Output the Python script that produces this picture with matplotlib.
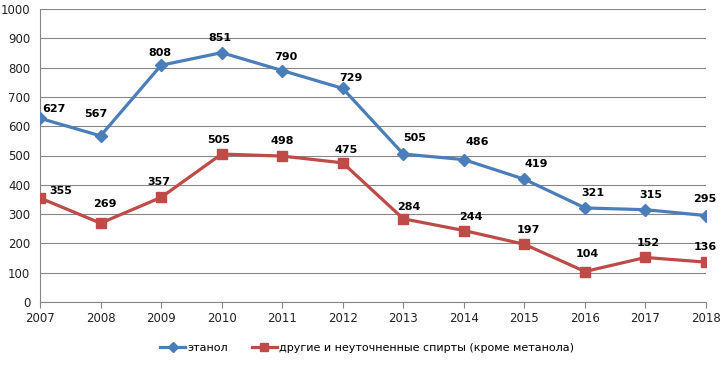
import matplotlib
matplotlib.use('Agg')
import matplotlib.pyplot as plt

# data
years = [2007, 2008, 2009, 2010, 2011, 2012, 2013, 2014, 2015, 2016, 2017, 2018]
ethanol = [627, 567, 808, 851, 790, 729, 505, 486, 419, 321, 315, 295]
other = [355, 269, 357, 505, 498, 475, 284, 244, 197, 104, 152, 136]
name_ethanol = 'этанол'
name_other = 'другие и неуточненные спирты (кроме метанола)'

# label offsets in pixels (dx, dy)
off_ethanol = [(14, 9), (-5, 22), (-1, 12), (-2, 15), (4, 14), (8, 10),
               (11, 16), (13, 18), (12, 15), (8, 15), (5, 15), (-1, 17)]
off_other = [(21, 7), (4, 19), (-2, 15), (-3, 14), (0, 15), (3, 13),
             (6, 12), (7, 14), (4, 14), (2, 18), (3, 14), (-1, 15)]

blue = '#4A7EBB'
red = '#BE4B48'
tick_font = ['Liberation Sans Narrow', 'DejaVu Sans']

fig = plt.figure(figsize=(7.27, 3.68), dpi=100)
ax = fig.add_axes([40 / 727, 1 - 302 / 368, 666 / 727, 293 / 368])

ax.plot(years, ethanol, color=blue, lw=2.3, marker='D', ms=6,
        label=name_ethanol, zorder=3)
ax.plot(years, other, color=red, lw=2.3, marker='s', ms=7,
        label=name_other, zorder=3)

for x, y, (dx, dy) in zip(years, ethanol, off_ethanol):
    ax.annotate(str(y), (x, y), xytext=(dx, dy), textcoords='offset pixels',
                ha='center', va='center', fontsize=8, fontweight='bold')
for x, y, (dx, dy) in zip(years, other, off_other):
    ax.annotate(str(y), (x, y), xytext=(dx, dy), textcoords='offset pixels',
                ha='center', va='center', fontsize=8, fontweight='bold')

ax.set_xlim(2007, 2018)
ax.set_ylim(0, 1000)
ax.set_xticks(years)
ax.set_yticks(range(0, 1001, 100))
ax.grid(axis='y', color='#868686', lw=0.8)
ax.set_axisbelow(True)
for s in ['top', 'right']:
    ax.spines[s].set_visible(False)
ax.spines['left'].set_color('#868686')
ax.spines['bottom'].set_color('#868686')
ax.tick_params(axis='y', length=0, pad=7)
ax.tick_params(axis='x', length=4, color='#868686', pad=3)
for lab in ax.get_xticklabels() + ax.get_yticklabels():
    lab.set_family(tick_font)
    lab.set_fontsize(8.5)
    lab.set_color('#222222')

leg = fig.legend(loc='center', bbox_to_anchor=(0.505, 1 - 348 / 368), ncol=2,
                 frameon=False, handlelength=2.2, columnspacing=2.2,
                 handletextpad=0.2, markerscale=0.85,
                 prop={'family': tick_font, 'size': 8})

fig.savefig('out.png', dpi=100)
